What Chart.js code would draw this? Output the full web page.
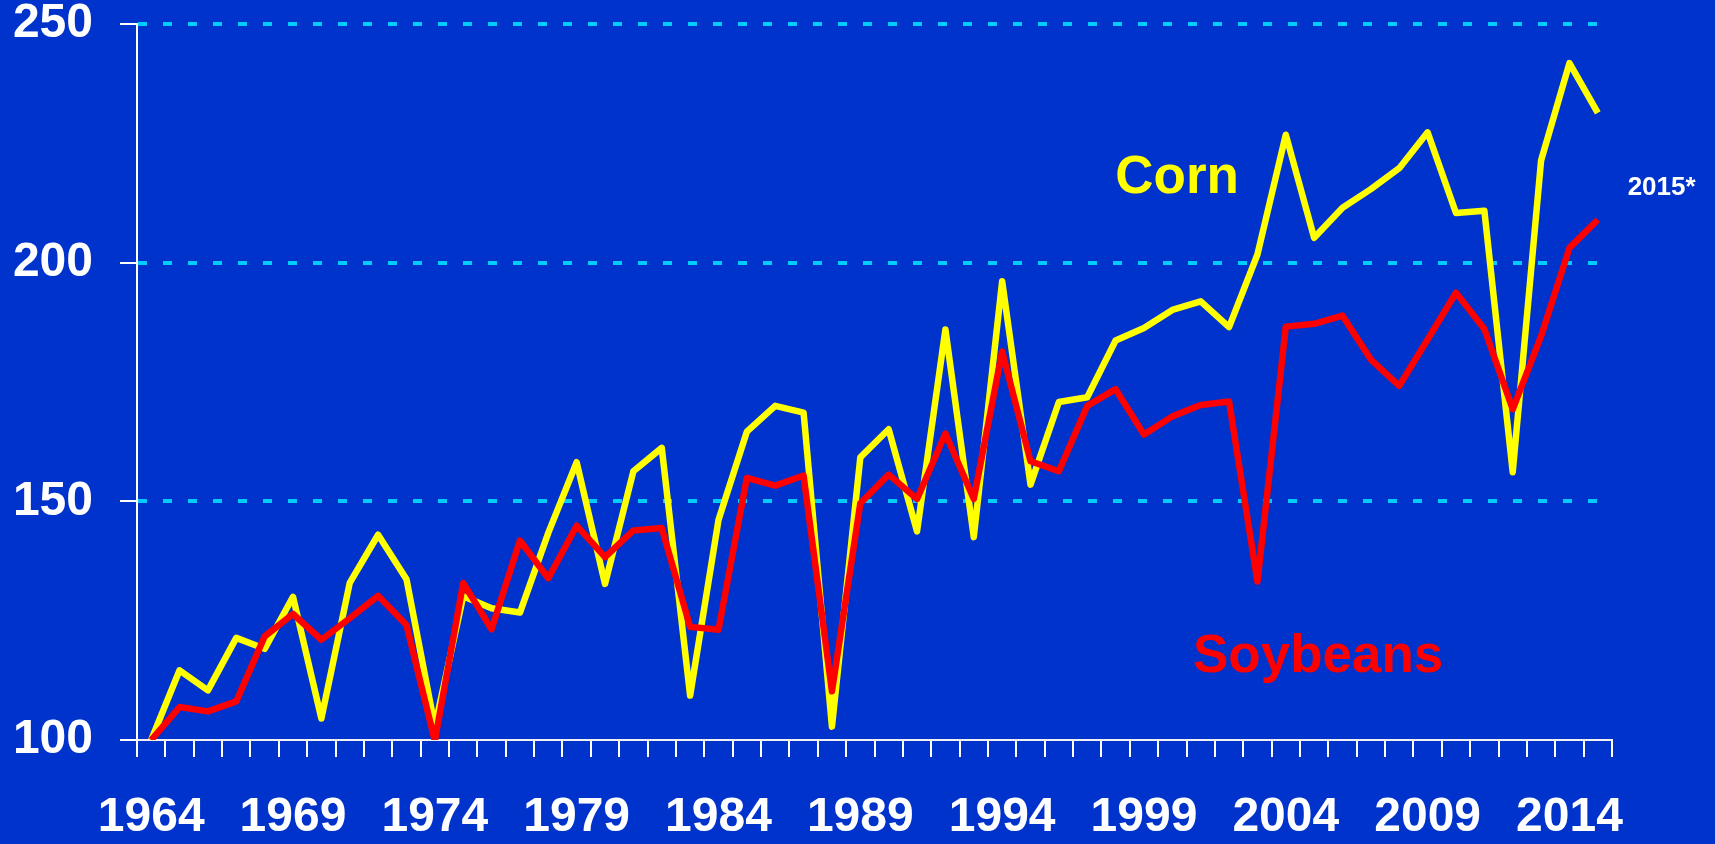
<!DOCTYPE html>
<html>
<head>
<meta charset="utf-8">
<script src="https://cdn.jsdelivr.net/npm/chart.js@4.4.1/dist/chart.umd.min.js"></script>
<style>
  html, body { margin: 0; padding: 0; background: #0033CC; }
  #wrap { width: 1715px; height: 844px; position: relative; }
</style>
</head>
<body>
<div id="wrap"><canvas id="chart"></canvas></div>
<script>
const years = ['1964','1965','1966','1967','1968','1969','1970','1971','1972','1973',
  '1974','1975','1976','1977','1978','1979','1980','1981','1982','1983',
  '1984','1985','1986','1987','1988','1989','1990','1991','1992','1993',
  '1994','1995','1996','1997','1998','1999','2000','2001','2002','2003',
  '2004','2005','2006','2007','2008','2009','2010','2011','2012','2013',
  '2014','2015'];
const tickYears = ['1964','1969','1974','1979','1984','1989','1994','1999','2004','2009','2014'];
const yTicks = [100, 150, 200, 250];

const corn = [100, 114.6, 110.4, 121.4, 119.1, 130.0, 104.5, 132.9, 143.0, 133.7,
  102.8, 130.1, 127.6, 126.7, 143.4, 158.2, 132.7, 156.3, 161.2, 109.3,
  146.1, 164.6, 170.0, 168.6, 102.8, 159.2, 165.1, 143.7, 186.0, 142.5,
  196.1, 153.5, 170.8, 171.8, 183.7, 186.3, 190.1, 191.9, 186.5, 201.7,
  226.8, 205.2, 211.5, 215.4, 219.8, 227.3, 210.4, 210.9, 156.1, 221.4,
  241.8, 231.4];
const soybeans = [100, 106.9, 106.0, 108.1, 121.7, 126.4, 121.0, 125.5, 130.2, 124.1,
  99.8, 132.9, 123.2, 141.8, 133.9, 144.9, 138.3, 143.9, 144.4, 123.7,
  123.1, 154.9, 153.3, 155.4, 110.2, 149.6, 155.6, 150.5, 164.2, 150.5,
  181.4, 158.4, 156.3, 170.0, 173.5, 164.0, 167.8, 170.2, 170.9, 133.2,
  186.6, 187.2, 188.9, 179.7, 174.2, 183.9, 193.7, 186.1, 169.3, 184.6,
  203.1, 209.0];

// text labels on the plot: [text, position along the year axis (index), value at baseline, color, font size]
const notes = [
  ['Corn', 36.17, 214.6, '#FFFF00', 53],
  ['Soybeans', 41.14, 114.2, '#FF0000', 53],
  ['2015*', 53.25, 214.2, '#FFFFFF', 26]
];

const FONT = "'Liberation Sans', Arial, sans-serif";

const notePlugin = {
  id: 'notes',
  afterDatasetsDraw(chart) {
    const ctx = chart.ctx;
    const xs = chart.scales.x, ys = chart.scales.y;
    ctx.save();
    ctx.textAlign = 'center';
    ctx.textBaseline = 'alphabetic';
    notes.forEach(n => {
      ctx.font = 'bold ' + n[4] + 'px ' + FONT;
      ctx.fillStyle = n[3];
      ctx.fillText(n[0], xs.getPixelForValue(n[1]), ys.getPixelForValue(n[2]));
    });
    ctx.restore();
  }
};

new Chart(document.getElementById('chart'), {
  type: 'line',
  data: {
    labels: years,
    datasets: [
      {
        label: 'Corn',
        data: corn,
        borderColor: '#FFFF00',
        borderWidth: 6.5,
        pointRadius: 0,
        tension: 0,
        borderJoinStyle: 'round',
        order: 1
      },
      {
        label: 'Soybeans',
        data: soybeans,
        borderColor: '#FF0000',
        borderWidth: 6.5,
        pointRadius: 0,
        tension: 0,
        borderJoinStyle: 'round',
        order: 0
      }
    ]
  },
  options: {
    responsive: true,
    maintainAspectRatio: false,
    animation: false,
    layout: { padding: { top: 24, right: 103, left: 0, bottom: 0 } },
    plugins: {
      legend: { display: false },
      tooltip: { enabled: false }
    },
    scales: {
      x: {
        offset: true,
        grid: {
          offset: true,
          drawOnChartArea: false,
          color: '#FFFFFF',
          lineWidth: 2,
          tickLength: 17
        },
        border: { color: '#F0F0F0', width: 2 },
        ticks: {
          autoSkip: false,
          maxRotation: 0,
          minRotation: 0,
          padding: 32,
          color: '#FFFFFF',
          font: { family: FONT, size: 48, weight: 'bold' },
          callback: function(v) {
            const y = this.getLabelForValue(v);
            return tickYears.includes(y) ? y : '';
          }
        },
        afterFit(scale) {
          scale.height = 104;
          scale.paddingLeft = 0;
          scale.paddingRight = 0;
        }
      },
      y: {
        min: 100,
        max: 250,
        afterBuildTicks(scale) {
          scale.ticks = yTicks.map(v => ({ value: v }));
        },
        grid: {
          color: ctx => (ctx.tick && ctx.tick.value === 100) ? 'rgba(0,0,0,0)' : '#00CCFF',
          lineWidth: 4,
          tickColor: '#FFFFFF',
          tickWidth: 2,
          tickBorderDash: [],
          tickLength: 17
        },
        border: { color: '#FFFFFF', width: 2, dash: [9, 16] },
        ticks: {
          padding: 27,
          color: '#FFFFFF',
          font: { family: FONT, size: 48, weight: 'bold', lineHeight: 1 }
        },
        afterFit(scale) {
          scale.width = 137;
          scale.paddingTop = 0;
          scale.paddingBottom = 0;
        }
      }
    }
  },
  plugins: [notePlugin]
});
</script>
</body>
</html>
